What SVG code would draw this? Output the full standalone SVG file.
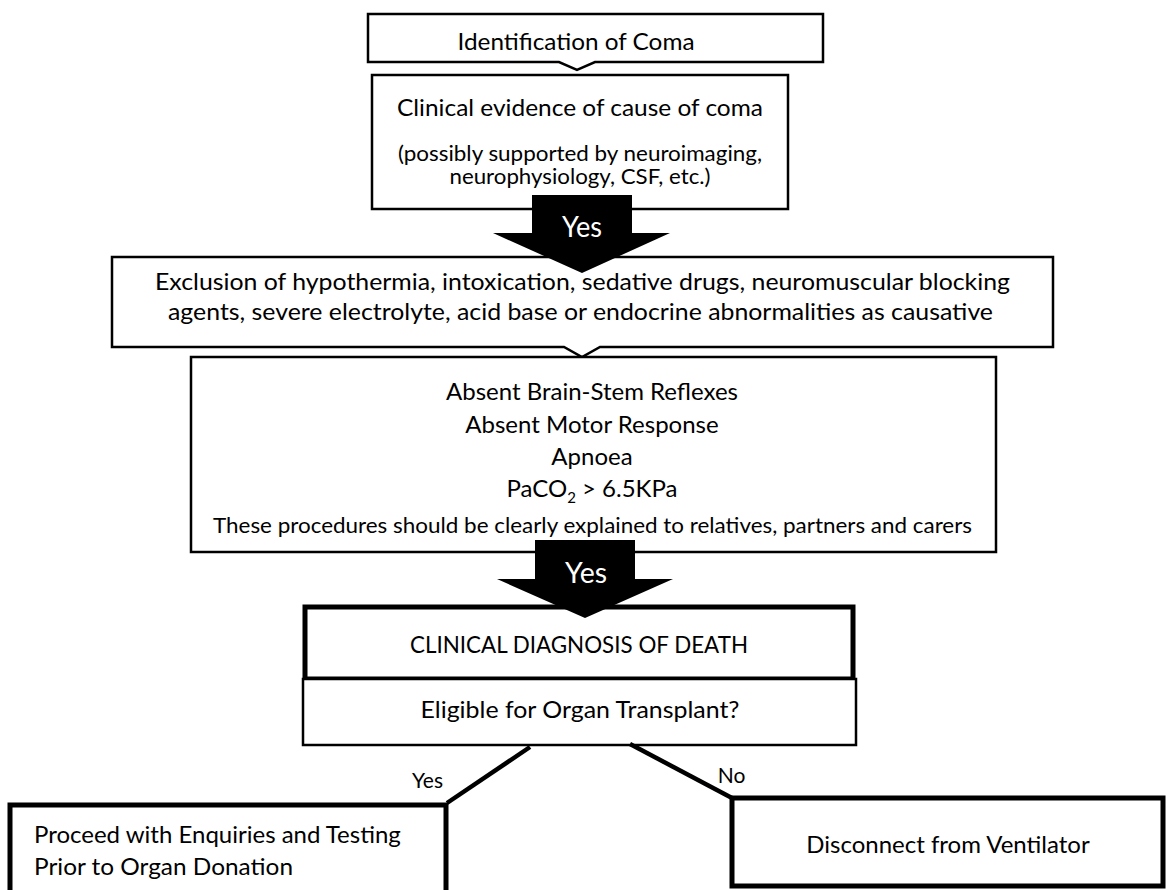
<svg xmlns="http://www.w3.org/2000/svg" width="1168" height="890" viewBox="0 0 1168 890">
<style>
  .box { fill: #fff; stroke: #000; stroke-width: 2.5; }
  .thick { fill: #fff; stroke: #000; stroke-width: 5; }
  .t { font-family: Lato, "Liberation Sans", sans-serif; fill: #000; }
  .big { font-size: 24px; }
  .mid { font-size: 21px; }
  .lbl { font-size: 21px; }
  .yes { font-family: Lato, "Liberation Sans", sans-serif; font-size: 28px; fill: #fff; }
  .arrow { fill: #000; }
  .line { fill: none; stroke: #000; stroke-width: 4.5; }
</style>
<rect width="1168" height="890" fill="#fff"/>

<g id="n1">
  <path class="box" d="M368,14 H823 V62 H595 L577,70 L559,62 H368 Z"/>
  <text class="t big" x="576" y="50" text-anchor="middle" textLength="237" lengthAdjust="spacingAndGlyphs">Identification of Coma</text>
</g>

<g id="n2">
  <rect class="box" x="372" y="75" width="416" height="134"/>
  <text class="t big" x="580" y="116" text-anchor="middle" textLength="366" lengthAdjust="spacingAndGlyphs">Clinical evidence of cause of coma</text>
  <text class="t mid" x="580" y="161" text-anchor="middle" textLength="364" lengthAdjust="spacingAndGlyphs">(possibly supported by neuroimaging,</text>
  <text class="t mid" x="580" y="184" text-anchor="middle" textLength="261" lengthAdjust="spacingAndGlyphs">neurophysiology, CSF, etc.)</text>
</g>

<g id="n3">
  <path class="box" d="M112,257 H1053 V347 H600 L582,357 L564,347 H112 Z"/>
  <text class="t big" x="582.5" y="290" text-anchor="middle" textLength="855" lengthAdjust="spacingAndGlyphs">Exclusion of hypothermia, intoxication, sedative drugs, neuromuscular blocking</text>
  <text class="t big" x="580.5" y="320" text-anchor="middle" textLength="825" lengthAdjust="spacingAndGlyphs">agents, severe electrolyte, acid base or endocrine abnormalities as causative</text>
</g>

<g id="n4">
  <rect class="box" x="191" y="357" width="805" height="195"/>
  <text class="t big" x="592" y="400" text-anchor="middle">Absent Brain-Stem Reflexes</text>
  <text class="t big" x="592" y="433" text-anchor="middle">Absent Motor Response</text>
  <text class="t big" x="592" y="465" text-anchor="middle">Apnoea</text>
  <text class="t big" x="592" y="497" text-anchor="middle">PaCO<tspan font-size="15" dy="6">2</tspan><tspan dy="-6"> &gt; 6.5KPa</tspan></text>
  <text class="t mid" x="592.5" y="533" text-anchor="middle" textLength="759" lengthAdjust="spacingAndGlyphs">These procedures should be clearly explained to relatives, partners and carers</text>
</g>

<g id="n5">
  <rect class="thick" x="305" y="607" width="548" height="72"/>
  <text class="t big" x="579" y="653" text-anchor="middle" textLength="338" lengthAdjust="spacingAndGlyphs">CLINICAL DIAGNOSIS OF DEATH</text>
</g>

<g id="n6">
  <rect class="box" x="303" y="679" width="553" height="66"/>
  <text class="t big" x="580" y="718" text-anchor="middle" textLength="319" lengthAdjust="spacingAndGlyphs">Eligible for Organ Transplant?</text>
</g>

<g id="n7">
  <rect class="thick" x="10" y="805" width="436" height="95"/>
  <text class="t big" x="34" y="843">Proceed with Enquiries and Testing</text>
  <text class="t big" x="34" y="875" textLength="259" lengthAdjust="spacingAndGlyphs">Prior to Organ Donation</text>
</g>

<g id="n8">
  <rect class="thick" x="732" y="798" width="431" height="88"/>
  <text class="t big" x="948" y="853" text-anchor="middle">Disconnect from Ventilator</text>
</g>

<g id="connectors">
  <polygon class="arrow" points="532,195 632,195 632,233 670,233 582,273 493,233 532,233"/>
  <text class="yes" x="582" y="237" text-anchor="middle" textLength="40" lengthAdjust="spacingAndGlyphs">Yes</text>
  <polygon class="arrow" points="535,540 635,540 635,579 673,579 585,618 497,579 535,579"/>
  <text class="yes" x="586" y="583" text-anchor="middle" textLength="42" lengthAdjust="spacingAndGlyphs">Yes</text>
  <polyline class="line" points="530,747 447,803"/>
  <polyline class="line" points="630,744 732,798"/>
  <text class="t lbl" x="427.5" y="788" text-anchor="middle">Yes</text>
  <text class="t lbl" x="731.5" y="783" text-anchor="middle">No</text>
</g>
</svg>
